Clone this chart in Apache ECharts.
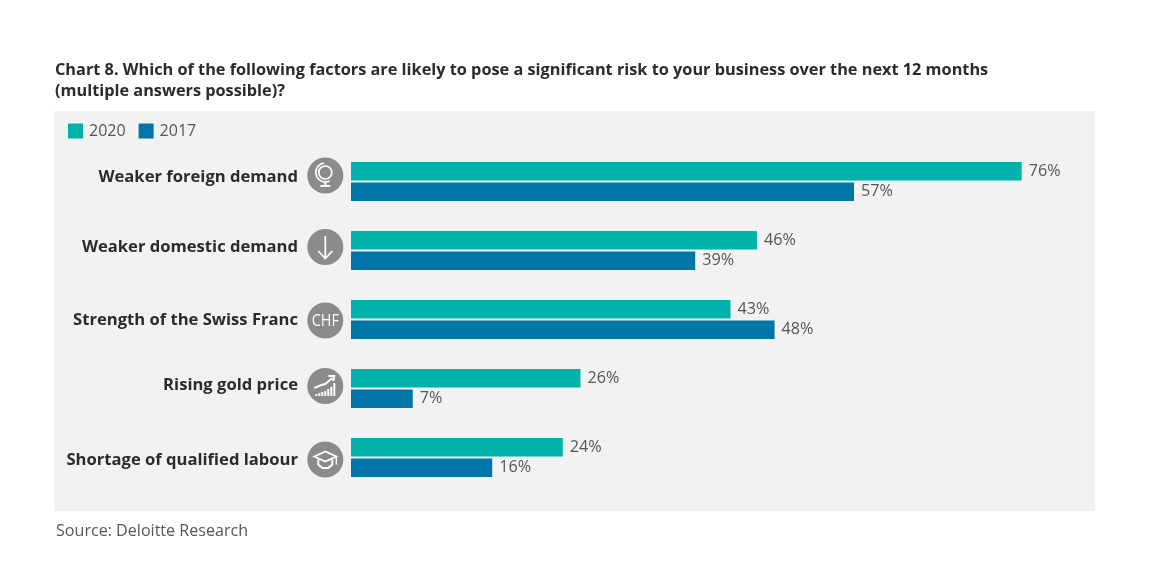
<!DOCTYPE html>
<html><head><meta charset="utf-8">
<style>html,body{margin:0;padding:0;background:#fff}#c{width:1155px;height:577px}</style>
<script src="https://cdn.jsdelivr.net/npm/echarts@6/dist/echarts.min.js"></script>
</head><body><div id="c"></div>
<script>
const categories = ['Weaker foreign demand','Weaker domestic demand','Strength of the Swiss Franc','Rising gold price','Shortage of qualified labour'];
const series2020 = [76,46,43,26,24];
const series2017 = [57,39,48,7,16];
const labelShift = [-4.5,-3.5,0.5,-3,3];
const iconShift = [-6,-3.5,1,-2.5,2];
const chartBarHeights = [2,3,4,5,7,9,13];
const FONT = '"Open Sans"';
const chart = echarts.init(document.getElementById('c'),null,{renderer:'canvas'});
const W = '#ffffff';
const ln = (x1,y1,x2,y2,w) => ({type:'line',shape:{x1,y1,x2,y2},style:{stroke:W,lineWidth:w||1.8,fill:null}});
const pl = (points,w) => ({type:'polyline',shape:{points},style:{stroke:W,lineWidth:w||1.8,fill:null}});
const icons = [
 [ {type:'circle',shape:{cx:0,cy:-3,r:6.5},style:{stroke:W,lineWidth:1.7,fill:null}},
   {type:'arc',shape:{cx:0,cy:-3,r:9.5,startAngle:Math.PI*0.35,endAngle:Math.PI*1.45,clockwise:true},style:{stroke:W,lineWidth:1.7,fill:null}},
   ln(0,7,0,10), ln(-5,10.5,5,10.5) ],
 [ ln(0,-11,0,11), pl([[-7,4],[0,11.5],[7,4]]) ],
 [ {type:'text',scaleX:0.9,style:{x:0,y:0.5,text:'CHF',fill:W,font:'16px '+FONT,align:'center',verticalAlign:'middle'}} ],
 [ ...[-10,-7,-4,-1,2,5,8].map((x,i)=>({type:'rect',shape:{x,y:10-chartBarHeights[i],width:2,height:chartBarHeights[i]},style:{fill:W}})),
   pl([[-11,2],[-4,-1],[0,-2],[7,-8]],2), pl([[3,-10],[9,-10],[8,-5]],2) ],
 [ {type:'polygon',shape:{points:[[-11,-3],[0,-8],[11,-3],[0,2]]},style:{stroke:W,lineWidth:1.8,fill:null}},
   pl([[-7,0],[-7,5],[-3,8.5],[3,8.5],[7,5],[7,0]],2), ln(11,-3,11,5,1.4) ]
];
chart.setOption({
 animation:false,
 backgroundColor:'#ffffff',
 textStyle:{fontFamily:FONT},
 title:[
  {text:'Chart 8. Which of the following factors are likely to pose a significant risk to your business over the next 12 months\n(multiple answers possible)?',
   left:50,top:55,textStyle:{fontFamily:FONT,fontWeight:700,fontSize:16.3,lineHeight:21,color:'#2b2b2b'}},
  {text:'Source: Deloitte Research',left:51,top:518,textStyle:{fontFamily:FONT,fontWeight:400,fontSize:16.1,color:'#53565a'}}
 ],
 legend:{left:63,top:118,itemWidth:15,itemHeight:15,itemGap:13,icon:'rect',
  data:['2020','2017'],textStyle:{fontFamily:FONT,fontSize:16,color:'#53565a',padding:[0,0,0,1]}},
 grid:{left:351,top:147,width:706,height:345,containLabel:false},
 xAxis:{type:'value',min:0,max:80,show:false},
 yAxis:{type:'category',data:categories,inverse:true,
  axisLine:{show:false},axisTick:{show:false},splitLine:{show:false},
  axisLabel:{margin:53,fontFamily:FONT,
   formatter:(v,i)=>'{r'+i+'|'+v+'}',
   rich:Object.fromEntries(labelShift.map((s,i)=>['r'+i,{fontFamily:FONT,fontWeight:700,fontSize:16.6,color:'#2b2b2b',
     padding:s<0?[0,0,-2*s,0]:[2*s,0,0,0]}]))}},
 series:[
  {name:'2020',type:'bar',data:series2020,barWidth:18.5,barGap:'11%',itemStyle:{color:'#00b2a9'},
   label:{show:true,position:'right',distance:7,formatter:'{c}%',fontFamily:FONT,fontSize:16.2,color:'#53565a'}},
  {name:'2017',type:'bar',data:series2017,barWidth:18.5,barGap:'11%',itemStyle:{color:'#0076a8'},
   label:{show:true,position:'right',distance:7,formatter:'{c}%',fontFamily:FONT,fontSize:16.2,color:'#53565a'}}
 ]
});
const panel = {type:'rect',z:-10,silent:true,shape:{x:54,y:111,width:1041,height:400},style:{fill:'#f2f2f2'}};
const groups = categories.map((c,i)=>({
 type:'group',x:325.3,y:chart.convertToPixel({yAxisIndex:0},c)+iconShift[i],z:5,silent:true,
 children:[{type:'circle',shape:{cx:0,cy:0,r:18},style:{fill:'#898b8d'}},...icons[i]]
}));
chart.setOption({graphic:[panel,...groups]});
</script></body></html>
